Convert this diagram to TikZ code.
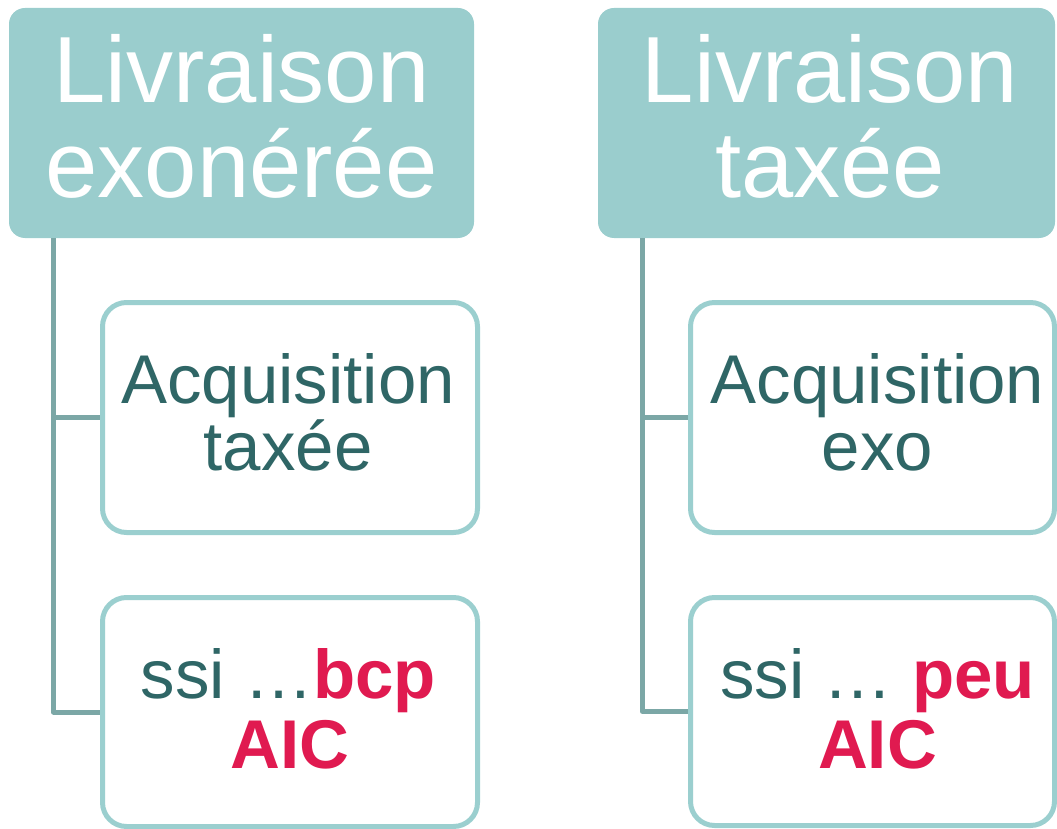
\documentclass[tikz,border=0pt]{standalone}
\usepackage{fontspec}
\setmainfont{Liberation Sans}
\definecolor{headfill}{HTML}{9ACDCD}
\definecolor{boxline}{HTML}{9BCFCF}
\definecolor{linkline}{HTML}{7BA7A6}
\definecolor{bodytext}{HTML}{2F6666}
\definecolor{accent}{HTML}{E01A50}
\begin{document}
\begin{tikzpicture}[x=1pt,y=-1pt,
  header/.style={fill=headfill, rounded corners=16pt, inner sep=0pt},
  child/.style={draw=boxline, line width=5pt, fill=white, rounded corners=24pt, inner sep=0pt},
  link/.style={draw=linkline, line width=5pt, line join=round},
  headtext/.style={anchor=base, inner sep=0pt, text=white, font=\fontsize{94}{94}\selectfont},
  bodyline/.style={anchor=base, inner sep=0pt, text=bodytext, font=\fontsize{69}{69}\selectfont},
  hot/.style={text=accent, font=\fontsize{69}{69}\selectfont\bfseries}]
\useasboundingbox (0,0) rectangle (1057,829);

% left column
\node[header, minimum width=465pt, minimum height=230pt] (hl) at (241.5,123) {};
\node[child, minimum width=375pt, minimum height=230pt] (cl1) at (290,417.5) {};
\node[child, minimum width=375pt, minimum height=229pt] (cl2) at (290,712) {};
\draw[link] ([xshift=44.5pt]hl.south west) |- (cl1.west);
\draw[link] ([xshift=44.5pt]hl.south west) |- (cl2.west);

\node[headtext] (hla) at (241.5,103) {Livraison};
\node[headtext] (hlb) at (241.5,198) {exonérée};
\node[bodyline] (tla) at (288,403) {Acquisition};
\node[bodyline] (tlb) at (288,470) {taxée};
\node[bodyline] (sla) at (288.5,698) {ssi …\textcolor{accent}{\bfseries bcp}};
\node[bodyline, hot] (slb) at (290,768) {AIC};

% right column
\node[header, minimum width=457pt, minimum height=230pt] (hr) at (826.5,123) {};
\node[child, minimum width=364pt, minimum height=230pt] (cr1) at (872.5,417.5) {};
\node[child, minimum width=364pt, minimum height=228pt] (cr2) at (872.5,711.5) {};
\draw[link] ([xshift=44.5pt]hr.south west) |- (cr1.west);
\draw[link] ([xshift=44.5pt]hr.south west) |- (cr2.west);

\node[headtext] (hra) at (830,103) {Livraison};
\node[headtext] (hrb) at (830,198) {taxée};
\node[bodyline] (tra) at (877.5,403) {Acquisition};
\node[bodyline] (trb) at (877.5,470) {exo};
\node[bodyline] (sra) at (877.5,698) {ssi … \textcolor{accent}{\bfseries peu}};
\node[bodyline, hot] (srb) at (877.5,768) {AIC};
\end{tikzpicture}
\end{document}
